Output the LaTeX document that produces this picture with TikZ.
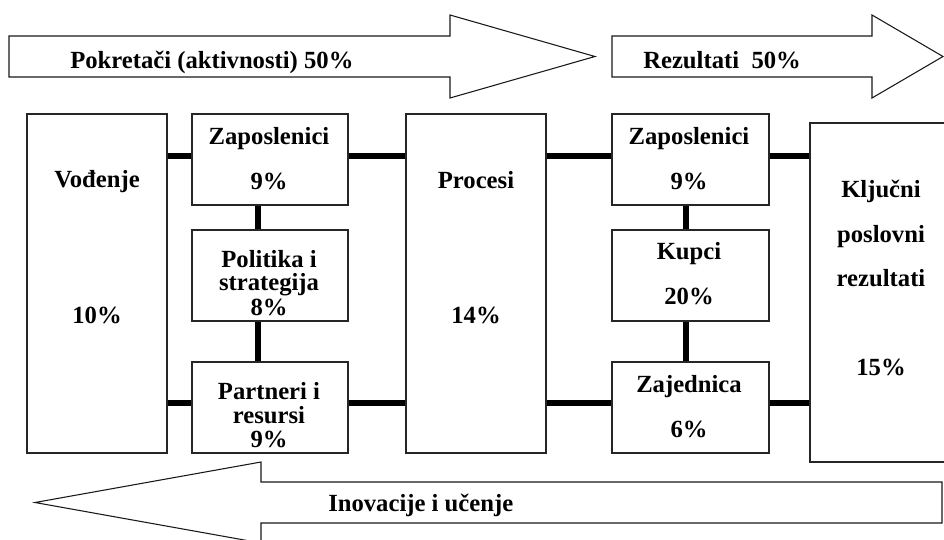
\documentclass[tikz,border=0pt]{standalone}
\usepackage{fontspec}
\setmainfont{Liberation Serif}
\usetikzlibrary{fit}
\tikzset{
  box/.style={draw=black!85, line width=0.8pt, fill=white, inner sep=0pt},
  conn/.style={line width=4.9pt, black},
  bigarrow/.style={draw=black!90, line width=0.8pt, fill=white, line join=miter},
  txt/.style={font=\fontsize{18.5}{22}\selectfont\bfseries, inner sep=0pt, anchor=base}
}
\begin{document}
\begin{tikzpicture}[x=0.75pt, y=-0.75pt]
\clip (0,0) rectangle (944,539);
\fill[white] (0,0) rectangle (944,539);
% big arrows
\draw[bigarrow] (9,36) -- (450,36) -- (450,15) -- (595,56.5) -- (450,98) -- (450,77) -- (9,77) -- cycle;
\draw[bigarrow] (612,36) -- (872,36) -- (872,15) -- (943,56.5) -- (872,98) -- (872,77) -- (612,77) -- cycle;
\draw[bigarrow] (942,482) -- (261,482) -- (261,462) -- (35,502.5) -- (261,543) -- (261,523) -- (942,523) -- cycle;
\node[txt, anchor=base west] (a1) at (70,68) {Pokretači (aktivnosti) 50\%};
\node[txt, anchor=base west] (a2) at (643,68) {Rezultati\ \ 50\%};
\node[txt, anchor=base west] (a3) at (328,511) {Inovacije i učenje};
% boxes
\node[box, fit={(27,114) (167,453)}] (vod) {};
\node[box, fit={(192,114) (348,205)}] (zl) {};
\node[box, fit={(192,230) (348,321)}] (pol) {};
\node[box, fit={(192,362) (348,453)}] (par) {};
\node[box, fit={(406,114) (546,453)}] (pro) {};
\node[box, fit={(612,114) (769,205)}] (zr) {};
\node[box, fit={(612,230) (769,321)}] (kup) {};
\node[box, fit={(612,362) (769,453)}] (zaj) {};
\node[box, fit={(810,123) (960,462)}] (klj) {};
% connectors
\coordinate (ytop) at (0,156);
\coordinate (ybot) at (0,403);
\coordinate (xl) at (258,0);
\coordinate (xr) at (686,0);
\draw[conn] (vod.east |- ytop) -- (zl.west |- ytop);
\draw[conn] (zl.east |- ytop) -- (pro.west |- ytop);
\draw[conn] (pro.east |- ytop) -- (zr.west |- ytop);
\draw[conn] (zr.east |- ytop) -- (klj.west |- ytop);
\draw[conn] (vod.east |- ybot) -- (par.west |- ybot);
\draw[conn] (par.east |- ybot) -- (pro.west |- ybot);
\draw[conn] (pro.east |- ybot) -- (zaj.west |- ybot);
\draw[conn] (zaj.east |- ybot) -- (klj.west |- ybot);
\draw[conn] (zl.south -| xl) -- (pol.north -| xl);
\draw[conn] (pol.south -| xl) -- (par.north -| xl);
\draw[conn] (zr.south -| xr) -- (kup.north -| xr);
\draw[conn] (kup.south -| xr) -- (zaj.north -| xr);
% texts
\node[txt] (t1) at (97,187) {Vođenje};
\node[txt] (t2) at (97,323) {10\%};
\node[txt] (t3) at (269,144) {Zaposlenici};
\node[txt] (t4) at (269,189) {9\%};
\node[txt] (t5) at (269,267) {Politika i};
\node[txt] (t6) at (269,290) {strategija};
\node[txt] (t7) at (269,315) {8\%};
\node[txt] (t8) at (269,399) {Partneri i};
\node[txt] (t9) at (269,423) {resursi};
\node[txt] (t10) at (269,447) {9\%};
\node[txt] (t11) at (476,188) {Procesi};
\node[txt] (t12) at (476,323) {14\%};
\node[txt] (t13) at (689,144) {Zaposlenici};
\node[txt] (t14) at (689,189) {9\%};
\node[txt] (t15) at (689,259) {Kupci};
\node[txt] (t16) at (689,304) {20\%};
\node[txt] (t17) at (689,392) {Zajednica};
\node[txt] (t18) at (689,437) {6\%};
\node[txt] (t19) at (881,197) {Ključni};
\node[txt] (t20) at (881,242) {poslovni};
\node[txt] (t21) at (881,286) {rezultati};
\node[txt] (t22) at (881,375) {15\%};
\end{tikzpicture}
\end{document}
